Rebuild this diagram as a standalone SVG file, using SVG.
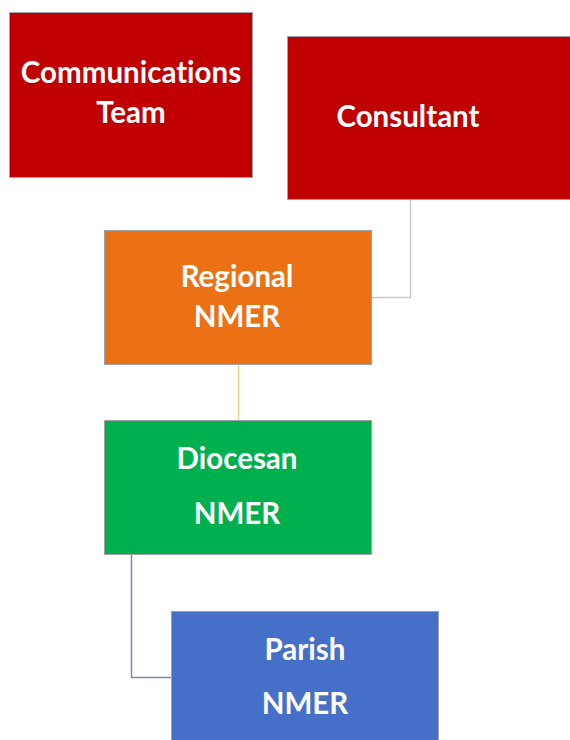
<svg xmlns="http://www.w3.org/2000/svg" width="570" height="740" viewBox="0 0 570 740">
<style>
  .box { stroke: #a0a0a8; stroke-width: 1; }
  .lbl { font-family: Lato, "Open Sans", "Liberation Sans", sans-serif; font-weight: 700; font-size: 29.5px; fill: #ffffff; text-anchor: middle; font-variant-ligatures: none; }
  .conn { fill: none; stroke-width: 1.5; }
</style>
<rect width="570" height="740" fill="#ffffff"/>
<g id="connectors">
  <polyline class="conn" stroke="#c8c8c8" points="410.5,199 410.5,297.5 372,297.5"/>
  <line class="conn" stroke="#f5cf7a" x1="238.5" y1="364" x2="238.5" y2="420"/>
  <polyline class="conn" stroke="#7b86bd" points="131.5,554 131.5,677.5 171,677.5"/>
</g>
<g id="communications-team">
  <rect class="box" x="9.5" y="12.5" width="243" height="165" fill="#c00000"/>
  <text class="lbl" x="131" y="83">Communications</text>
  <text class="lbl" x="131" y="123">Team</text>
</g>
<g id="consultant">
  <rect class="box" x="287.5" y="36.5" width="290" height="163" fill="#c00000"/>
  <text class="lbl" x="408" y="127">Consultant</text>
</g>
<g id="regional-nmer">
  <rect class="box" x="104.5" y="230.5" width="267" height="134" fill="#ec7014"/>
  <text class="lbl" x="237" y="287">Regional</text>
  <text class="lbl" x="237" y="327">NMER</text>
</g>
<g id="diocesan-nmer">
  <rect class="box" x="104.5" y="420.5" width="267" height="134" fill="#00b04f"/>
  <text class="lbl" x="237" y="469">Diocesan</text>
  <text class="lbl" x="237" y="524">NMER</text>
</g>
<g id="parish-nmer">
  <rect class="box" x="171.5" y="611.5" width="267" height="134" fill="#4670c8"/>
  <text class="lbl" x="305" y="660">Parish</text>
  <text class="lbl" x="305" y="714">NMER</text>
</g>
</svg>
